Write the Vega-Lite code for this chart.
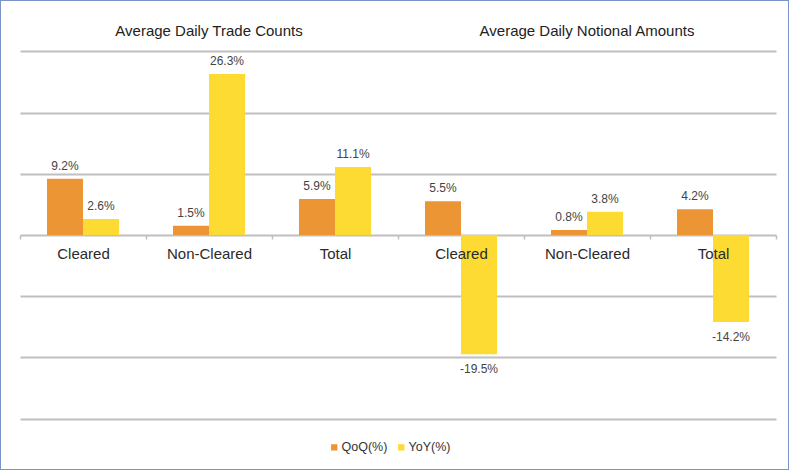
{
  "$schema": "https://vega.github.io/schema/vega-lite/v6.json",
  "width": 789,
  "height": 470,
  "autosize": {"type": "fit", "contains": "padding"},
  "padding": 0,
  "background": "#ffffff",
  "config": {
    "view": {"stroke": "#7b93c8", "strokeWidth": 2},
    "font": "Liberation Sans",
    "locale": {"number": {"decimal": ".", "thousands": ",", "grouping": [3], "currency": ["$", ""], "minus": "-"}}
  },
  "datasets": {
    "bars": [
      {"key": "Trade Counts: Cleared", "series": "QoQ(%)", "value": 0.092},
      {"key": "Trade Counts: Cleared", "series": "YoY(%)", "value": 0.026},
      {"key": "Trade Counts: Non-Cleared", "series": "QoQ(%)", "value": 0.015},
      {"key": "Trade Counts: Non-Cleared", "series": "YoY(%)", "value": 0.263},
      {"key": "Trade Counts: Total", "series": "QoQ(%)", "value": 0.059},
      {"key": "Trade Counts: Total", "series": "YoY(%)", "value": 0.111},
      {"key": "Notional Amounts: Cleared", "series": "QoQ(%)", "value": 0.055},
      {"key": "Notional Amounts: Cleared", "series": "YoY(%)", "value": -0.195},
      {"key": "Notional Amounts: Non-Cleared", "series": "QoQ(%)", "value": 0.008},
      {"key": "Notional Amounts: Non-Cleared", "series": "YoY(%)", "value": 0.038},
      {"key": "Notional Amounts: Total", "series": "QoQ(%)", "value": 0.042},
      {"key": "Notional Amounts: Total", "series": "YoY(%)", "value": -0.142}
    ],
    "headers": [
      {"key": "Trade Counts: Non-Cleared", "header": "Average Daily Trade Counts"},
      {"key": "Notional Amounts: Non-Cleared", "header": "Average Daily Notional Amounts"}
    ]
  },
  "layer": [
    {
      "data": {"name": "bars"},
      "mark": {"type": "bar"},
      "encoding": {
        "x": {
          "field": "key", "type": "nominal", "sort": null,
          "scale": {"range": [20, 776], "paddingInner": 0, "paddingOuter": 0},
          "axis": {
            "title": null, "orient": "bottom", "offset": -235, "zindex": 1,
            "domain": false, "ticks": true, "tickBand": "extent", "tickSize": 4,
            "tickColor": "#bfbfbf", "tickWidth": 1.5,
            "labelExpr": "split(datum.label, ': ')[1]",
            "labelFont": "Liberation Sans", "labelFontSize": 15, "labelColor": "#2b2b2b",
            "labelPadding": 7, "labelAngle": 0
          }
        },
        "xOffset": {
          "field": "series", "type": "nominal",
          "scale": {"paddingInner": 0, "paddingOuter": 0.75}
        },
        "y": {
          "field": "value", "type": "quantitative",
          "scale": {"domain": [-0.384, 0.384], "nice": false, "zero": false},
          "axis": {
            "title": null, "values": [-0.3, -0.2, -0.1, 0, 0.1, 0.2, 0.3],
            "labels": false, "ticks": false, "domain": false,
            "grid": true, "gridColor": "#bfbfbf", "gridWidth": 2
          }
        },
        "color": {
          "field": "series", "type": "nominal",
          "scale": {"domain": ["QoQ(%)", "YoY(%)"], "range": ["#ec9535", "#fedb33"]},
          "legend": {
            "title": null, "orient": "none", "legendX": 328, "legendY": 441,
            "direction": "horizontal", "symbolType": "square", "symbolSize": 40,
            "labelFont": "Liberation Sans", "labelFontSize": 12.5, "labelColor": "#333333",
            "labelOffset": 1, "columnPadding": 7
          }
        }
      }
    },
    {
      "data": {"name": "bars"},
      "transform": [{"filter": "datum.value >= 0"}],
      "mark": {"type": "text", "baseline": "bottom", "dy": -6, "fontSize": 12, "color": "#444444"},
      "encoding": {
        "x": {"field": "key", "type": "nominal", "sort": null},
        "xOffset": {"field": "series", "type": "nominal"},
        "y": {"field": "value", "type": "quantitative"},
        "text": {"field": "value", "type": "quantitative", "format": ".1%"}
      }
    },
    {
      "data": {"name": "bars"},
      "transform": [{"filter": "datum.value < 0"}],
      "mark": {"type": "text", "baseline": "top", "dy": 10, "fontSize": 12, "color": "#444444"},
      "encoding": {
        "x": {"field": "key", "type": "nominal", "sort": null},
        "xOffset": {"field": "series", "type": "nominal"},
        "y": {"field": "value", "type": "quantitative"},
        "text": {"field": "value", "type": "quantitative", "format": ".1%"}
      }
    },
    {
      "data": {"name": "headers"},
      "mark": {"type": "text", "baseline": "middle", "fontSize": 15, "color": "#222222"},
      "encoding": {
        "x": {"field": "key", "type": "nominal", "sort": null},
        "y": {"datum": 0.333, "type": "quantitative"},
        "text": {"field": "header"}
      }
    }
  ]
}
